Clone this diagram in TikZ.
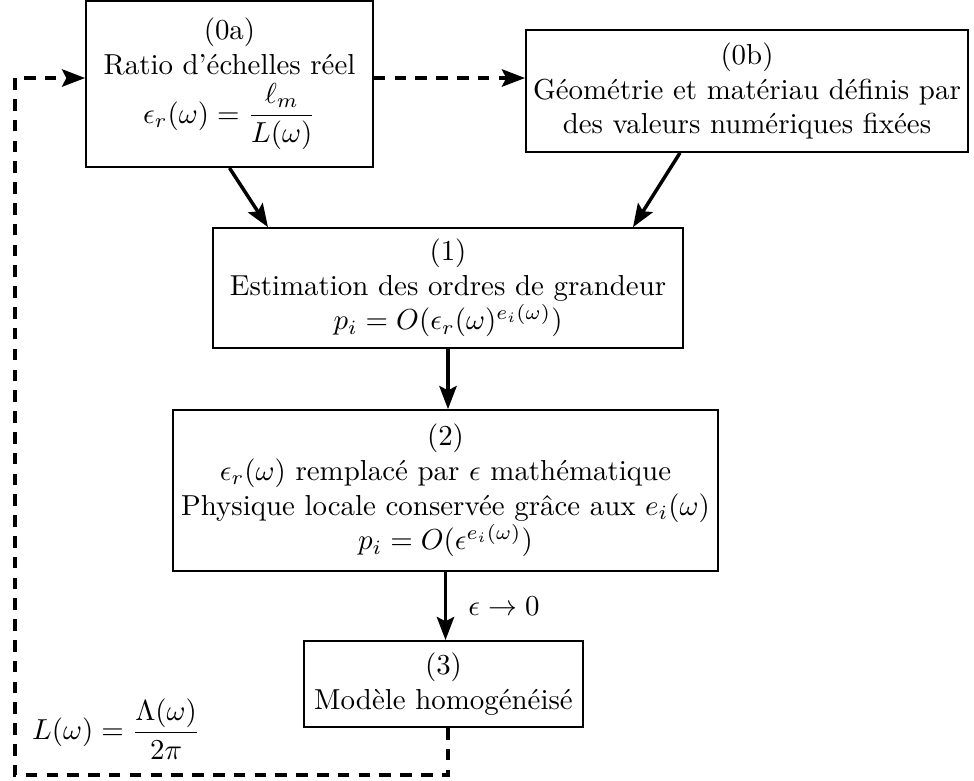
\documentclass[tikz,border=0pt]{standalone}
\usepackage{amsmath}
\usetikzlibrary{arrows.meta,calc}
\begin{document}
\begin{tikzpicture}[x=0.346pt,y=-0.346pt,
  box/.style={draw,line width=0.6pt,align=center,inner sep=0pt},
  tip/.style={-{Stealth[length=8pt,width=6pt,inset=1.5pt]}},
  flow/.style={line width=1.2pt,tip},
  loop/.style={line width=1.2pt,dash pattern=on 4pt off 3.2pt,tip}]
\useasboundingbox (0,0) rectangle (974,780);
\node[box,minimum width=99.3pt,minimum height=57.5pt] (a) at (229.5,84)
  {(0a)\\ Ratio d'échelles réel\\[2pt] $\displaystyle\epsilon_r(\omega)=\frac{\ell_m}{L(\omega)}$};
\node[box,minimum width=153pt,minimum height=42.2pt] (b) at (747,91)
  {(0b)\\ Géométrie et matériau définis par\\ des valeurs numériques fixées};
\node[box,minimum width=162.6pt,minimum height=41.5pt] (n1) at (448,288)
  {(1)\\ Estimation des ordres de grandeur\\ $p_i=O(\epsilon_r(\omega)^{e_i(\omega)})$};
\node[box,minimum width=188.6pt,minimum height=55.7pt] (n2) at (445.5,490.5)
  {(2)\\ $\epsilon_r(\omega)$ remplacé par $\epsilon$ mathématique\\ Physique locale conservée grâce aux $e_i(\omega)$\\ $p_i=O(\epsilon^{e_i(\omega)})$};
\node[box,minimum width=96.5pt,minimum height=29.8pt] (n3) at (443.5,684)
  {(3)\\ Modèle homogénéisé};
\draw[flow] (a.south) -- ($(n1.north)+(-180,0)$);
\draw[flow] ($(b.south)+(-67,0)$) -- ($(n1.north)+(185,0)$);
\draw[flow] (n1.south) -- (n1.south |- n2.north);
\draw[flow] (n2.south) -- (n2.south |- n3.north) node[midway,right=4pt] (lab) {$\epsilon\to 0$};
\coordinate (bl) at (15,775);
\coordinate (tl) at (15,78);
\draw[loop] (n3.south -| 448,0) -- (448,775) -- (bl) -- (tl) -- (tl -| a.west);
\draw[loop] (tl -| a.east) -- (tl -| b.west);
\node[anchor=west] (lw) at (22,729) {$L(\omega)=\dfrac{\Lambda(\omega)}{2\pi}$};
\end{tikzpicture}
\end{document}
